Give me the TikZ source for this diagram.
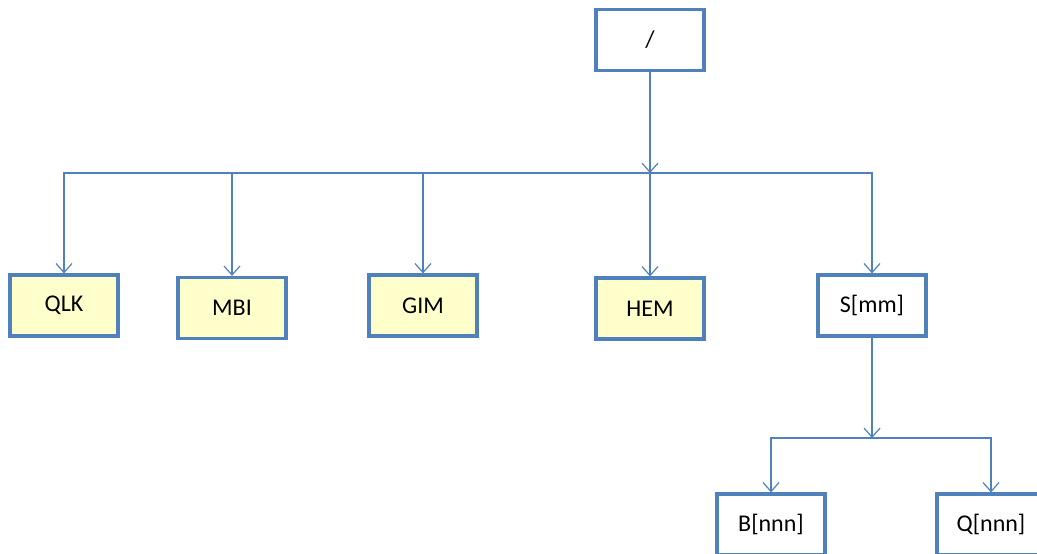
\documentclass[tikz,border=0pt]{standalone}
\usepackage{fontspec}
\setmainfont{Carlito}
\usetikzlibrary{arrows.meta, positioning}
\definecolor{boxblue}{HTML}{4F81BD}
\definecolor{boxyellow}{HTML}{FFFFCC}

\begin{document}
\begin{tikzpicture}[
    x=0.5pt, y=-0.5pt,
    box/.style={rectangle, draw=boxblue, line width=1.6pt, minimum width=54pt, minimum height=30.5pt, inner sep=0pt, font=\fontsize{12}{14}\selectfont},
    dirbox/.style={box, fill=boxyellow},
    link/.style={-{Straight Barb[length=4.5pt, width=8pt]}, draw=boxblue, line width=0.6pt}
]
\useasboundingbox (0,0) rectangle (1037,553);
\node[box] (root) at (650,40) {/};
\coordinate (j1) at (650,173);
\node[dirbox] (qlk) at (64,305.5) {QLK};
\node[dirbox] (mbi) at (232,308) {MBI};
\node[dirbox] (gim) at (423,305.5) {GIM};
\node[dirbox] (hem) at (650,308.5) {HEM};
\node[box] (smm) at (872,305.5) {S[mm]};
\coordinate (j2) at (872,438);
\node[box] (bnnn) at (771,524.5) {B[nnn]};
\node[box] (qnnn) at (991,524.5) {Q[nnn]};
\draw[link] (root) -- (j1);
\draw[link] (j1) -- (hem);
\draw[link] (j1) -| (qlk);
\draw[link] (j1) -| (mbi);
\draw[link] (j1) -| (gim);
\draw[link] (j1) -| (smm);
\draw[link] (smm) -- (j2);
\draw[link] (j2) -| (bnnn);
\draw[link] (j2) -| (qnnn);
\end{tikzpicture}
\end{document}
